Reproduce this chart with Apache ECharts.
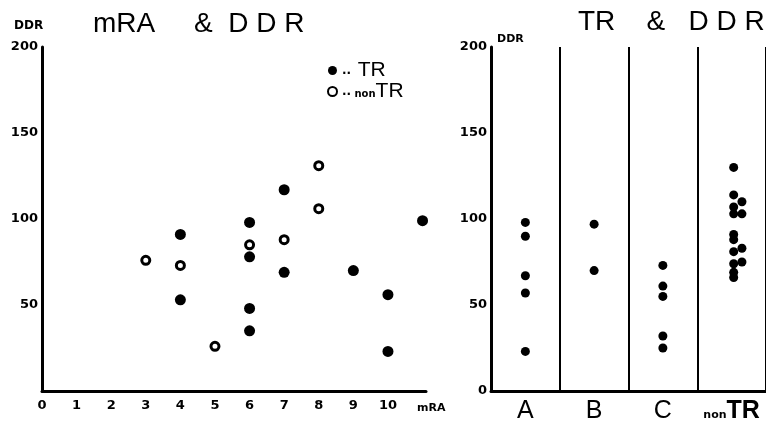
<!DOCTYPE html>
<html>
<head>
<meta charset="utf-8">
<script src="https://cdn.jsdelivr.net/npm/echarts@6/dist/echarts.min.js"></script>
<style>
  html, body { margin: 0; padding: 0; background: #fff; }
  #chart { width: 766px; height: 428px; }
</style>
</head>
<body>
<div id="chart"></div>
<script>
// left panel: mRA vs DDR
const trPoints = [[4, 91], [4, 53], [6, 98], [6, 78], [6, 48], [6, 35], [7, 117], [7, 69],
    [9, 70], [10, 56], [10, 23], [11, 99]]
const nonTrPoints = [[3, 76], [4, 73], [5, 26], [6, 85], [7, 88], [8, 131], [8, 106]]

// right panel: groups of TR and DDR
const groups = ['A', 'B', 'C', 'nonTR']
const groupA = [98, 90, 67, 57, 23]
const groupB = [97, 70]
const groupC = [73, 61, 55, 32, 25]
// nonTR dots sit in two slightly shifted rows
const nonTrMain = [130, 114, 107, 103, 91, 88, 81, 74, 69, 66]
const nonTrSide = [110, 103, 83, 75]

const ddrTicks = [0, 50, 100, 150, 200]

const ink = '#000'
const labelFont = "'DejaVu Sans', sans-serif"
const titleFont = "'Liberation Sans', Arial, sans-serif"

function column(idx, vals, shift) {
    return vals.map(v => [idx + 0.5 + (shift || 0), v])
}

const rightDots = [].concat(
    column(0, groupA),
    column(1, groupB),
    column(2, groupC),
    column(3, nonTrMain, 0.03),
    column(3, nonTrSide, 0.15)
)

const chart = echarts.init(document.getElementById('chart'))

const axisLineStyle = { color: ink, width: 3 }
const tickLabel = { color: ink, fontFamily: labelFont, fontWeight: 'bold', fontSize: 13 }

chart.setOption({
    animation: false,
    backgroundColor: '#fff',
    title: [
        { text: 'DDR', left: 9, top: 15, textStyle: { fontFamily: labelFont, fontWeight: 'bold', fontSize: 12, color: ink } },
        { text: 'mRA     &  D D R', left: 88, top: 5, textStyle: { fontFamily: titleFont, fontWeight: 'normal', fontSize: 28, color: ink } },
        { text: 'DDR', left: 492, top: 29, textStyle: { fontFamily: labelFont, fontWeight: 'bold', fontSize: 11, color: ink } },
        { text: 'TR    &   D D R', left: 573, top: 3, textStyle: { fontFamily: titleFont, fontWeight: 'normal', fontSize: 28, color: ink } },
        { text: 'mRA', left: 412, top: 398, textStyle: { fontFamily: labelFont, fontWeight: 'bold', fontSize: 11, color: ink } }
    ],
    legend: {
        data: ['TR', 'nonTR'],
        orient: 'vertical',
        left: 322,
        top: 55,
        itemWidth: 9,
        itemHeight: 9,
        itemGap: 0,
        formatter: name => name === 'TR' ? '{dot|..}  {big|TR}' : '{dot|..} {small|non}{big|TR}',
        textStyle: {
            color: ink,
            rich: {
                dot: { fontSize: 12, fontWeight: 'bold', color: ink, fontFamily: labelFont },
                small: { fontSize: 10, fontWeight: 'bold', color: ink, fontFamily: labelFont, padding: [5, 0, 0, 0] },
                big: { fontSize: 21, color: ink, fontFamily: titleFont }
            }
        }
    },
    grid: [
        { left: 42, top: 47, width: 384, bottom: 37 },
        { left: 491, top: 47, width: 278, bottom: 37 }
    ],
    xAxis: [
        {
            gridIndex: 0, type: 'value', min: 0, max: 11.1, interval: 1,
            axisLine: { lineStyle: axisLineStyle },
            axisTick: { show: false },
            splitLine: { show: false },
            axisLabel: Object.assign({ margin: 8, showMaxLabel: false, formatter: v => v <= 10 ? String(v) : '' }, tickLabel)
        },
        {
            gridIndex: 1, type: 'value', min: 0, max: 4, interval: 1,
            axisLine: { lineStyle: axisLineStyle },
            axisTick: { show: false },
            axisLabel: { show: false },
            splitLine: { show: true, lineStyle: { color: ink, width: 2, type: 'solid' } }
        },
        {
            gridIndex: 1, type: 'category', data: groups, position: 'bottom',
            axisLine: { show: false },
            axisTick: { show: false },
            splitLine: { show: false },
            axisLabel: {
                margin: 8,
                interval: 0,
                hideOverlap: false,
                formatter: v => v === 'nonTR' ? '{small|non}{bold|TR}' : '{big|' + v + '}',
                rich: {
                    big: { fontSize: 25, color: ink, fontFamily: titleFont },
                    small: { fontSize: 11, fontWeight: 'bold', color: ink, fontFamily: labelFont, padding: [8, 0, 0, 0] },
                    bold: { fontSize: 25, fontWeight: 'bold', color: ink, fontFamily: titleFont }
                }
            }
        }
    ],
    yAxis: [
        {
            gridIndex: 0, type: 'value', min: 0, max: 200, interval: 50,
            axisLine: { show: true, lineStyle: axisLineStyle },
            axisTick: { show: false },
            splitLine: { show: false },
            axisLabel: Object.assign({ margin: 4, formatter: v => v === 0 ? '' : String(v) }, tickLabel)
        },
        {
            gridIndex: 1, type: 'value', min: 0, max: 200, interval: 50,
            axisLine: { show: true, lineStyle: axisLineStyle },
            axisTick: { show: false },
            splitLine: { show: false },
            axisLabel: Object.assign({ margin: 4, customValues: ddrTicks }, tickLabel)
        }
    ],
    series: [
        {
            name: 'TR', type: 'scatter', xAxisIndex: 0, yAxisIndex: 0,
            data: trPoints, symbol: 'circle', symbolSize: 11,
            itemStyle: { color: ink, opacity: 1 }
        },
        {
            name: 'nonTR', type: 'scatter', xAxisIndex: 0, yAxisIndex: 0,
            data: nonTrPoints, symbol: 'circle', symbolSize: 8,
            itemStyle: { color: '#fff', borderColor: ink, borderWidth: 3, opacity: 1 }
        },
        {
            name: 'groups', type: 'scatter', xAxisIndex: 1, yAxisIndex: 1,
            data: rightDots, symbol: 'circle', symbolSize: 9,
            itemStyle: { color: ink, opacity: 1 }
        }
    ]
})
</script>
</body>
</html>
